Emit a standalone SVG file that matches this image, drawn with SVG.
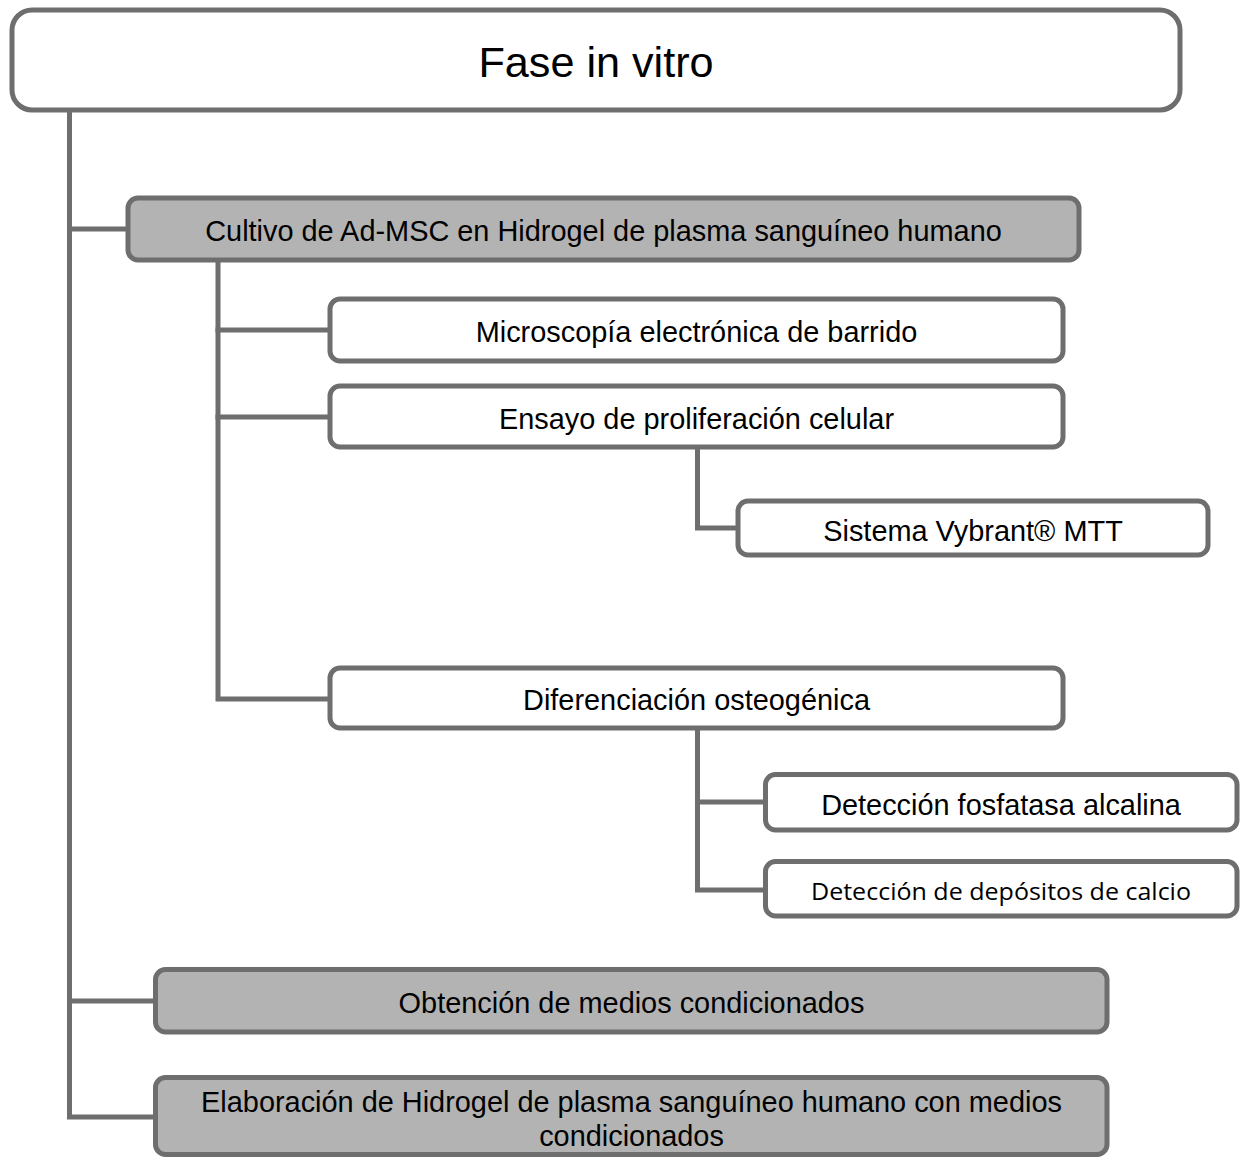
<svg xmlns="http://www.w3.org/2000/svg" width="1248" height="1158" viewBox="0 0 1248 1158">
  <style>
    .box { fill: #ffffff; stroke: #6e6e6e; stroke-width: 5; }
    .dark { fill: #b3b3b3; }
    .link { fill: none; stroke: #6e6e6e; stroke-width: 5; stroke-linejoin: miter; stroke-linecap: square; }
    .lbl { font-family: "Liberation Sans", Arial, sans-serif; font-size: 28.9px; fill: #000000; text-anchor: middle; }
    .alt { font-family: "Open Sans", "Noto Sans", sans-serif; font-size: 24px; fill: #000000; text-anchor: middle; }
  </style>

  <!-- tree connectors -->
  <g id="connectors">
    <path class="link" d="M69.5,112 V1117 H153"/>
    <path class="link" d="M69.5,229 H126"/>
    <path class="link" d="M69.5,1001 H153"/>
    <path class="link" d="M218,262 V699 H328"/>
    <path class="link" d="M218,330 H328"/>
    <path class="link" d="M218,417 H328"/>
    <path class="link" d="M697.5,449 V528 H736"/>
    <path class="link" d="M697.5,730 V890 H763"/>
    <path class="link" d="M697.5,802 H763"/>
  </g>

  <g id="fase">
    <rect class="box" x="12" y="10" width="1168" height="100" rx="20" ry="20" stroke-width="6"/>
    <text class="lbl" x="596" y="77" style="font-size:43.2px">Fase in vitro</text>
  </g>

  <g id="cultivo">
    <rect class="box dark" x="128" y="198" width="951" height="62" rx="10" ry="10"/>
    <text class="lbl" x="603.5" y="241">Cultivo de Ad-MSC en Hidrogel de plasma sanguíneo humano</text>
  </g>

  <g id="microscopia">
    <rect class="box" x="330" y="299" width="733" height="62" rx="10" ry="10"/>
    <text class="lbl" x="696.5" y="342">Microscopía electrónica de barrido</text>
  </g>

  <g id="ensayo">
    <rect class="box" x="330" y="386" width="733" height="61" rx="10" ry="10"/>
    <text class="lbl" x="696.5" y="429">Ensayo de proliferación celular</text>
  </g>

  <g id="vybrant">
    <rect class="box" x="738" y="501" width="470" height="54" rx="10" ry="10"/>
    <text class="lbl" x="973" y="541">Sistema Vybrant® MTT</text>
  </g>

  <g id="diferenciacion">
    <rect class="box" x="330" y="668" width="733" height="60" rx="10" ry="10"/>
    <text class="lbl" x="696.5" y="710">Diferenciación osteogénica</text>
  </g>

  <g id="fosfatasa">
    <rect class="box" x="765.5" y="774.5" width="471.5" height="55.5" rx="10" ry="10"/>
    <text class="lbl" x="1001" y="815">Detección fosfatasa alcalina</text>
  </g>

  <g id="calcio">
    <rect class="box" x="765.5" y="861.5" width="471.5" height="54.5" rx="10" ry="10"/>
    <text class="alt" x="1001" y="900" textLength="380" lengthAdjust="spacingAndGlyphs">Detección de depósitos de calcio</text>
  </g>

  <g id="obtencion">
    <rect class="box dark" x="155.5" y="969.5" width="951.5" height="62.5" rx="10" ry="10"/>
    <text class="lbl" x="631.5" y="1013">Obtención de medios condicionados</text>
  </g>

  <g id="elaboracion">
    <rect class="box dark" x="155.5" y="1077.5" width="951.5" height="77" rx="10" ry="10"/>
    <text class="lbl" x="631.5" y="1112">Elaboración de Hidrogel de plasma sanguíneo humano con medios</text>
    <text class="lbl" x="631.5" y="1146">condicionados</text>
  </g>
</svg>
